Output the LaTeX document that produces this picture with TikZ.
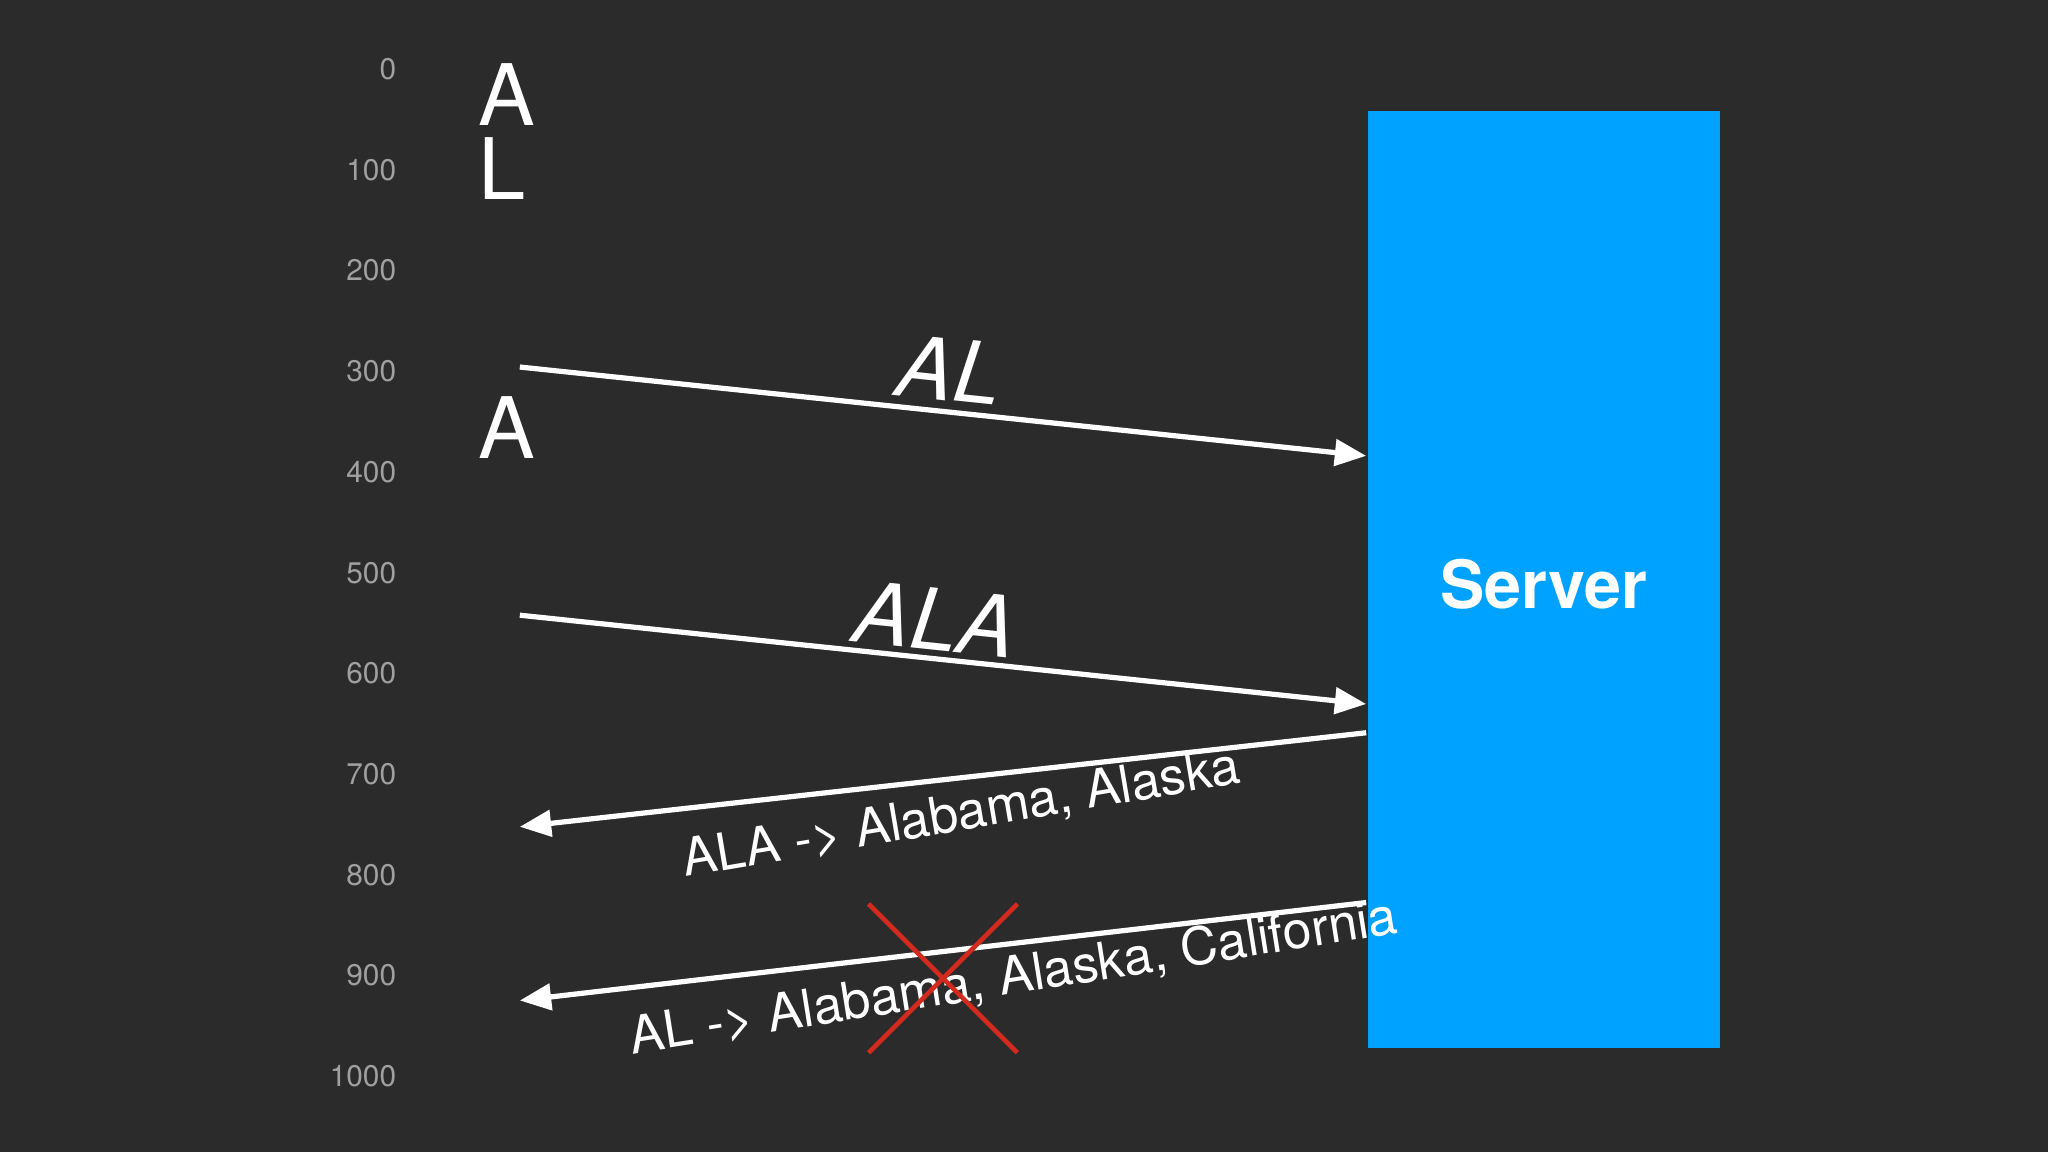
\documentclass[tikz,border=0pt]{standalone}
\usepackage{fontspec}
\setmainfont{TeX Gyre Heros}
\usetikzlibrary{arrows.meta}
\definecolor{bg}{HTML}{2B2B2C}
\definecolor{srv}{HTML}{00A2FF}
\definecolor{ax}{HTML}{A0A0A0}
\definecolor{xr}{HTML}{D42A1E}
\tikzset{
  axl/.style={text=ax,anchor=east,font=\fontsize{6.5}{7}\selectfont,inner sep=0},
  big/.style={text=white,anchor=west,font=\fontsize{18.5}{20}\selectfont,inner sep=0},
  msg/.style={draw=white,line width=0.4mm,-{Triangle[length=2.4mm,width=2mm]}},
  lbl/.style={text=white,font=\fontsize{11.3}{13}\selectfont,inner sep=0},
  ital/.style={text=white,font=\fontsize{18.5}{22}\selectfont\itshape,inner sep=0},
}
\begin{document}
\begin{tikzpicture}[x=0.1mm,y=-0.1mm]
\fill[bg] (0,0) rectangle (1568,882);
\useasboundingbox (0,0) rectangle (1568,882);
\foreach \v [count=\i from 0] in {0,100,200,300,400,500,600,700,800,900,1000}
  \node[axl] (t\i) at (304,{53+77.1*\i}) {\v};
\node[big] (a1) at (366,72) {A};
\node[big] (l1) at (366,129) {L};
\node[big] (a2) at (366,327) {A};
\node[fill=srv,minimum width=27mm,minimum height=71.7mm,inner sep=0] (srv) at (1182,443.5) {};
\node[text=white,font=\fontsize{14.5}{17}\selectfont\bfseries] (st) at (1182,447) {Server};
\coordinate (s1) at (398,281); \coordinate (e1) at (1046,349);
\coordinate (s2) at (398,471); \coordinate (e2) at (1046,539);
\coordinate (s3) at (1046,561); \coordinate (e3) at (398,633);
\coordinate (s4) at (1046,691); \coordinate (e4) at (398,766);
\draw[msg] (s1) -- (e1);
\draw[msg] (s2) -- (e2);
\draw[msg] (s3) -- (e3);
\draw[msg] (s4) -- (e4);
\node[ital,rotate=-6] (l1t) at (727,283) {AL};
\node[ital,rotate=-6] (l2t) at (716,474) {ALA};
\node[lbl,rotate=9.6] (l3t) at (736,624) {ALA -> Alabama, Alaska};
\node[lbl,rotate=9] (l4t) at (776,749) {AL -> Alabama, Alaska, California};
\coordinate (x1) at (665,692); \coordinate (x2) at (779,806);
\coordinate (x3) at (779,692); \coordinate (x4) at (665,806);
\draw[xr,line width=0.35mm] (x1) -- (x2) (x3) -- (x4);
\end{tikzpicture}
\end{document}
